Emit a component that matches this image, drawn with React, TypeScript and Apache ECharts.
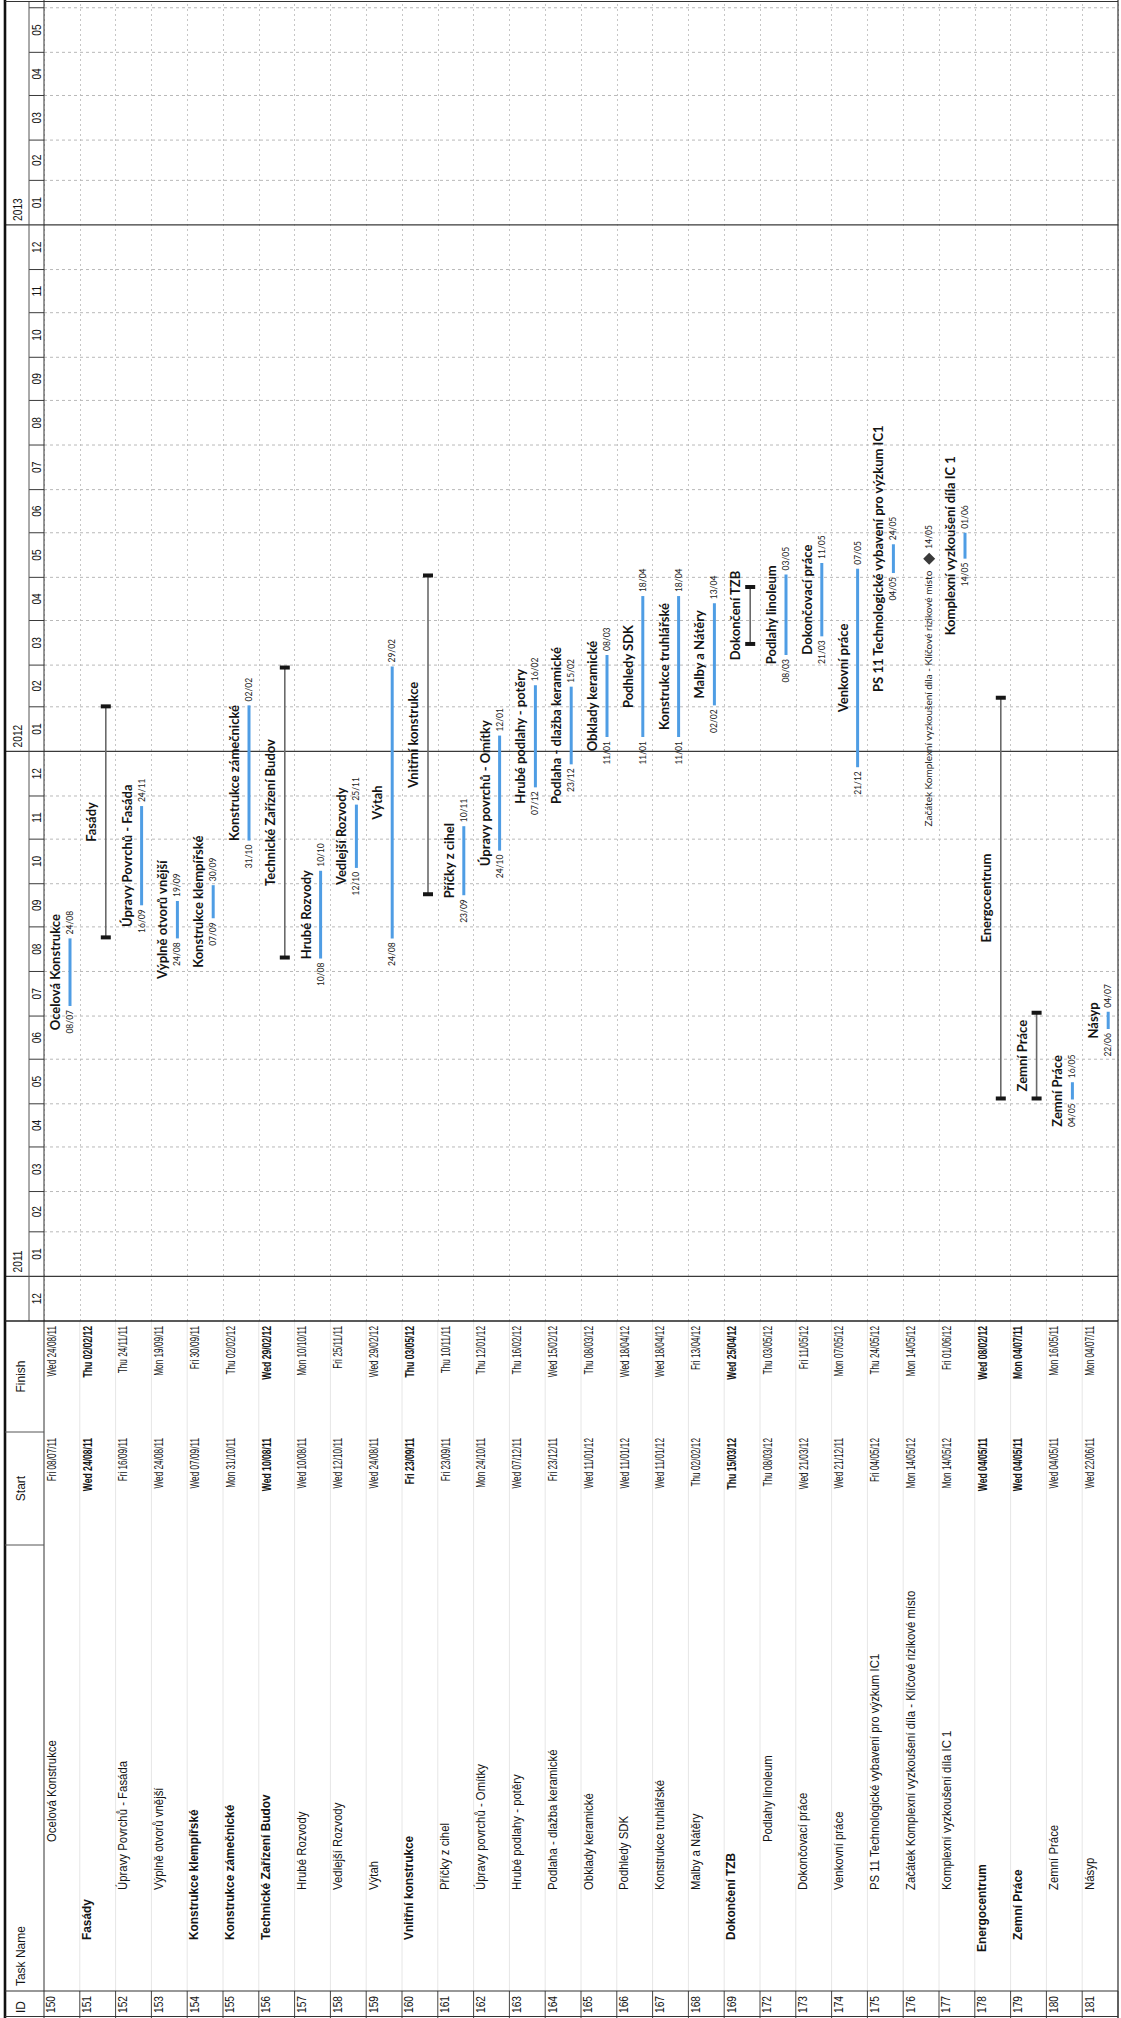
import { useEffect, useRef } from "react";
import * as echarts from "echarts";

// ---------- schedule rows ----------
const taskIds = [
  150, 151, 152, 153, 154, 155, 156, 157, 158, 159, 160, 161, 162, 163, 164,
  165, 166, 167, 168, 169, 172, 173, 174, 175, 176, 177, 178, 179, 180, 181,
];

const taskNames = [
  "Ocelová Konstrukce",
  "Fasády",
  "Úpravy Povrchů - Fasáda",
  "Výplně otvorů vnější",
  "Konstrukce klempířské",
  "Konstrukce zámečnické",
  "Technické Zařízení Budov",
  "Hrubé Rozvody",
  "Vedlejší Rozvody",
  "Výtah",
  "Vnitřní konstrukce",
  "Příčky z cihel",
  "Úpravy povrchů - Omítky",
  "Hrubé podlahy - potěry",
  "Podlaha - dlažba keramické",
  "Obklady keramické",
  "Podhledy SDK",
  "Konstrukce truhlářské",
  "Malby a Nátěry",
  "Dokončení TZB",
  "Podlahy linoleum",
  "Dokončovací práce",
  "Venkovní práce",
  "PS 11 Technologické vybavení pro výzkum IC1",
  "Začátek Komplexní vyzkoušení díla - Klíčové rizikové místo",
  "Komplexní vyzkoušení díla IC 1",
  "Energocentrum",
  "Zemní Práce",
  "Zemní Práce",
  "Násyp",
];

// task | summary | milestone
const taskKinds = [
  "task", "summary", "task", "task", "task", "task", "summary", "task", "task", "task",
  "summary", "task", "task", "task", "task", "task", "task", "task", "task", "summary",
  "task", "task", "task", "task", "milestone", "task", "summary", "summary", "task", "task",
];

const outlineLevels = [
  4, 2, 3, 3, 2, 2, 2, 3, 3, 3,
  2, 3, 3, 3, 3, 3, 3, 3, 3, 2,
  4, 3, 3, 3, 3, 3, 1, 2, 3, 3,
];

const boldNameIds = [151, 154, 155, 156, 160, 169, 178, 179];
const boldDateIds = [151, 156, 160, 169, 178, 179];

const startDates = [
  "2011-07-08", "2011-08-24", "2011-09-16", "2011-08-24", "2011-09-07",
  "2011-10-31", "2011-08-10", "2011-08-10", "2011-10-12", "2011-08-24",
  "2011-09-23", "2011-09-23", "2011-10-24", "2011-12-07", "2011-12-23",
  "2012-01-11", "2012-01-11", "2012-01-11", "2012-02-02", "2012-03-15",
  "2012-03-08", "2012-03-21", "2011-12-21", "2012-05-04", "2012-05-14",
  "2012-05-14", "2011-05-04", "2011-05-04", "2011-05-04", "2011-06-22",
];

const finishDates = [
  "2011-08-24", "2012-02-02", "2011-11-24", "2011-09-19", "2011-09-30",
  "2012-02-02", "2012-02-29", "2011-10-10", "2011-11-25", "2012-02-29",
  "2012-05-03", "2011-11-10", "2012-01-12", "2012-02-16", "2012-02-15",
  "2012-03-08", "2012-04-18", "2012-04-18", "2012-04-13", "2012-04-25",
  "2012-05-03", "2012-05-11", "2012-05-07", "2012-05-24", "2012-05-14",
  "2012-06-01", "2012-02-08", "2011-07-04", "2011-05-16", "2011-07-04",
];

// visible span of the timescale
const axisStart = "2010-12-01";
const axisEnd = "2013-06-05";

const tableHeaders = ["ID", "Task Name", "Start", "Finish"];

// ---------- layout (chart is drawn landscape, then turned a quarter left) ----------
const W = 2018;
const H = 1121;
const FRAME_TOP = 5;
const TIER_SPLIT = 29;
const HEADER_BOTTOM = 44;
const FRAME_BOTTOM = 1118;
const TABLE_RIGHT = 697;
const TIMELINE_RIGHT = 2016;
const COL_ID = 27;
const COL_START = 473;
const COL_FINISH = 586;
const INDENT_X = [0, 66, 78, 128, 176];

const TABLE_FONT = "Liberation Sans";
const CHART_FONT = "Lato";
const BAR_BLUE = "#4f9de4";

const DOW = ["Sun", "Mon", "Tue", "Wed", "Thu", "Fri", "Sat"];
const ts = (s: string) => Date.parse(s + "T00:00:00Z");
const pad = (n: number) => String(n).padStart(2, "0");
const fmtLong = (t: number) => {
  const d = new Date(t);
  return `${DOW[d.getUTCDay()]} ${pad(d.getUTCDate())}/${pad(d.getUTCMonth() + 1)}/${pad(d.getUTCFullYear() % 100)}`;
};
const fmtShort = (t: number) => {
  const d = new Date(t);
  return `${pad(d.getUTCDate())}/${pad(d.getUTCMonth() + 1)}`;
};

// month cells of the timescale
function monthCells() {
  const out: number[][] = [];
  const a = new Date(ts(axisStart));
  let y = a.getUTCFullYear();
  let m = a.getUTCMonth();
  const end = ts(axisEnd);
  while (Date.UTC(y, m, 1) < end) {
    const s = Date.UTC(y, m, 1);
    const e = Math.min(Date.UTC(y, m + 1, 1), end);
    out.push([0, s, e, m, y]);
    m += 1;
    if (m > 11) {
      m = 0;
      y += 1;
    }
  }
  return out;
}

// text squeezed along its baseline, as the printed table uses a narrow face
function narrowText(x: number, y: number, text: string, opts: any) {
  return {
    type: "text",
    x,
    y,
    scaleX: opts.scale ?? 0.8,
    style: {
      text,
      x: 0,
      y: 0,
      font: opts.font,
      fill: opts.fill || "#141414",
      textAlign: opts.align || "left",
      textVerticalAlign: "middle",
    },
  };
}

function buildOption() {
  const rows = taskIds.map((_, i) => [i, ts(startDates[i]), ts(finishDates[i])]);

  const timescaleSeries = {
    type: "custom",
    name: "timescale",
    z: 1,
    silent: true,
    data: monthCells(),
    encode: { x: [1, 2], y: 0 },
    renderItem: (_p: any, api: any) => {
      const x0 = api.coord([api.value(1), 0])[0];
      const x1 = Math.min(api.coord([api.value(2), 0])[0], TIMELINE_RIGHT);
      const month = api.value(3);
      const year = api.value(4);
      const children: any[] = [];
      if (x1 - x0 > 20) {
        children.push(
          narrowText((x0 + x1) / 2, 37, pad(month + 1), {
            font: `12px ${TABLE_FONT}`,
            align: "center",
            scale: 0.85,
          })
        );
      }
      if (x0 > TABLE_RIGHT + 1) {
        if (month === 0) {
          children.push({
            type: "line",
            shape: { x1: x0, y1: FRAME_TOP, x2: x0, y2: FRAME_BOTTOM },
            style: { stroke: "#3a3a3a", lineWidth: 1.2 },
          });
          children.push(
            narrowText(x0 + 4, 18, String(year), { font: `12px ${TABLE_FONT}`, scale: 0.85 })
          );
        } else {
          children.push({
            type: "line",
            shape: { x1: x0, y1: TIER_SPLIT, x2: x0, y2: HEADER_BOTTOM },
            style: { stroke: "#3a3a3a", lineWidth: 1 },
          });
          children.push({
            type: "line",
            shape: { x1: x0, y1: HEADER_BOTTOM, x2: x0, y2: FRAME_BOTTOM },
            style: { stroke: "#b9b9b9", lineWidth: 1, lineDash: [3, 3] },
          });
        }
      }
      return { type: "group", children };
    },
  };

  const tableSeries = {
    type: "custom",
    name: "table",
    z: 2,
    silent: true,
    data: rows,
    encode: { x: [1, 2], y: 0 },
    renderItem: (_p: any, api: any) => {
      const i = api.value(0);
      const band = api.size([0, 1])[1];
      const top = api.coord([api.value(1), i])[1] - band / 2;
      const ty = top + 7;
      const id = taskIds[i];
      const nameBold = boldNameIds.includes(id);
      const dateBold = boldDateIds.includes(id);
      const dateFont = `${dateBold ? "bold 13px" : "12.5px"} ${TABLE_FONT}`;
      return {
        type: "group",
        children: [
          narrowText(COL_ID / 2, ty, String(id), {
            font: `12px ${TABLE_FONT}`,
            align: "center",
            scale: 0.85,
          }),
          narrowText(INDENT_X[outlineLevels[i]], ty, taskNames[i], {
            font: `${nameBold ? "bold 12.5px" : "12px"} ${TABLE_FONT}`,
            scale: 0.95,
          }),
          narrowText(COL_FINISH - 6, ty, fmtLong(api.value(1)), {
            font: dateFont,
            align: "right",
            scale: 0.66,
          }),
          narrowText(TABLE_RIGHT - 5, ty, fmtLong(api.value(2)), {
            font: dateFont,
            align: "right",
            scale: 0.66,
          }),
          {
            type: "line",
            shape: { x1: 0, y1: top + band, x2: COL_ID, y2: top + band },
            style: { stroke: "#444", lineWidth: 1 },
          },
          {
            type: "line",
            shape: { x1: COL_ID, y1: top + band, x2: TABLE_RIGHT, y2: top + band },
            style: { stroke: "#e6e6e6", lineWidth: 1 },
          },
        ],
      };
    },
  };

  const ganttSeries = {
    type: "custom",
    name: "gantt",
    z: 3,
    silent: true,
    data: rows,
    encode: { x: [1, 2], y: 0 },
    renderItem: (_p: any, api: any) => {
      const i = api.value(0);
      const s = api.value(1);
      const f = api.value(2);
      const band = api.size([0, 1])[1];
      const top = api.coord([s, i])[1] - band / 2;
      const xs = api.coord([s, i])[0];
      const xf = api.coord([f, i])[0];
      const barY = top + 26;
      const labelY = top + 11;
      const kind = taskKinds[i];
      const children: any[] = [];
      const labelStyle = {
        font: `bold 13px ${CHART_FONT}`,
        fill: "#141414",
        textAlign: "center",
        textVerticalAlign: "middle",
      };
      const dateStyle = {
        font: `8.5px ${CHART_FONT}`,
        fill: "#222",
        textVerticalAlign: "middle",
      };
      if (kind === "summary") {
        children.push({
          type: "line",
          shape: { x1: xs, y1: barY, x2: xf, y2: barY },
          style: { stroke: "#6a6a6a", lineWidth: 1.6 },
        });
        children.push({
          type: "rect",
          shape: { x: xs - 1, y: barY - 5, width: 4, height: 10 },
          style: { fill: "#161616" },
        });
        children.push({
          type: "rect",
          shape: { x: xf - 3, y: barY - 5, width: 4, height: 10 },
          style: { fill: "#161616" },
        });
        children.push({
          type: "text",
          style: { ...labelStyle, text: taskNames[i], x: (xs + xf) / 2, y: labelY },
        });
      } else if (kind === "milestone") {
        children.push({
          type: "polygon",
          shape: {
            points: [
              [xs, barY - 6],
              [xs + 6, barY],
              [xs, barY + 6],
              [xs - 6, barY],
            ],
          },
          style: { fill: "#3a3a3a" },
        });
        children.push({
          type: "text",
          style: {
            ...dateStyle,
            font: `10px ${CHART_FONT}`,
            text: taskNames[i],
            x: xs - 12,
            y: barY - 1,
            textAlign: "right",
          },
        });
        children.push({
          type: "text",
          style: { ...dateStyle, text: fmtShort(f), x: xs + 10, y: barY, textAlign: "left" },
        });
      } else {
        children.push({
          type: "rect",
          shape: { x: xs, y: barY - 1.5, width: Math.max(xf - xs, 2), height: 3 },
          style: { fill: BAR_BLUE },
        });
        children.push({
          type: "text",
          style: { ...labelStyle, text: taskNames[i], x: (xs + xf) / 2, y: labelY },
        });
        children.push({
          type: "text",
          style: { ...dateStyle, text: fmtShort(s), x: xs - 4, y: barY, textAlign: "right" },
        });
        children.push({
          type: "text",
          style: { ...dateStyle, text: fmtShort(f), x: xf + 4, y: barY, textAlign: "left" },
        });
      }
      return { type: "group", children };
    },
  };

  const frameLine = (x1: number, y1: number, x2: number, y2: number, stroke = "#2a2a2a", lineWidth = 1) => ({
    type: "line",
    silent: true,
    z: 20,
    shape: { x1, y1, x2, y2 },
    style: { stroke, lineWidth },
  });

  const headerText = (x: number, text: string, align: string) => ({
    type: "text",
    silent: true,
    z: 20,
    x,
    y: 21,
    scaleX: 0.92,
    style: {
      text,
      x: 0,
      y: 0,
      font: `13px ${TABLE_FONT}`,
      fill: "#141414",
      textAlign: align,
      textVerticalAlign: "middle",
    },
  });

  return {
    animation: false,
    backgroundColor: "#ffffff",
    grid: {
      left: TABLE_RIGHT,
      right: W - TIMELINE_RIGHT,
      top: HEADER_BOTTOM,
      bottom: H - FRAME_BOTTOM,
    },
    xAxis: {
      type: "time",
      min: ts(axisStart),
      max: ts(axisEnd),
      show: false,
    },
    yAxis: {
      type: "category",
      data: taskIds.map(String),
      inverse: true,
      axisLine: { show: false },
      axisTick: { show: false },
      axisLabel: { show: false },
      splitLine: {
        show: true,
        interval: 0,
        lineStyle: { color: "#c6c6c6", width: 1, type: [2, 3] },
      },
    },
    graphic: [
      frameLine(0, FRAME_TOP, W, FRAME_TOP, "#111", 2.6),
      frameLine(0, FRAME_BOTTOM, W, FRAME_BOTTOM, "#333", 1.2),
      frameLine(1.5, FRAME_TOP, 1.5, FRAME_BOTTOM, "#333", 1.2),
      frameLine(TIMELINE_RIGHT + 0.5, FRAME_TOP, TIMELINE_RIGHT + 0.5, FRAME_BOTTOM, "#333", 1.2),
      frameLine(0, HEADER_BOTTOM, W, HEADER_BOTTOM, "#333", 1),
      frameLine(TABLE_RIGHT, TIER_SPLIT, TIMELINE_RIGHT, TIER_SPLIT, "#555", 1),
      frameLine(TABLE_RIGHT, FRAME_TOP, TABLE_RIGHT, FRAME_BOTTOM, "#222", 1.3),
      frameLine(COL_ID, FRAME_TOP, COL_ID, FRAME_BOTTOM, "#333", 1.2),
      frameLine(COL_START, FRAME_TOP, COL_START, HEADER_BOTTOM, "#555", 1),
      frameLine(COL_FINISH, FRAME_TOP, COL_FINISH, HEADER_BOTTOM, "#555", 1),
      headerText(5, tableHeaders[0], "left"),
      headerText(COL_ID + 5, tableHeaders[1], "left"),
      headerText((COL_START + COL_FINISH) / 2, tableHeaders[2], "center"),
      headerText((COL_FINISH + TABLE_RIGHT) / 2, tableHeaders[3], "center"),
    ],
    series: [timescaleSeries, tableSeries, ganttSeries],
  };
}

export default function App() {
  const ref = useRef<HTMLDivElement>(null);

  useEffect(() => {
    if (!ref.current) return;
    const chart = echarts.init(ref.current, null, { renderer: "svg", width: W, height: H });
    chart.setOption(buildOption() as any);
    return () => chart.dispose();
  }, []);

  return (
    <div
      style={{
        position: "absolute",
        left: 0,
        top: 0,
        width: H,
        height: W,
        overflow: "hidden",
        background: "#ffffff",
      }}
    >
      <div
        ref={ref}
        style={{
          position: "absolute",
          left: 0,
          top: 0,
          width: W,
          height: H,
          transformOrigin: "0 0",
          transform: `translate(0px, ${W}px) rotate(-90deg)`,
        }}
      />
    </div>
  );
}
